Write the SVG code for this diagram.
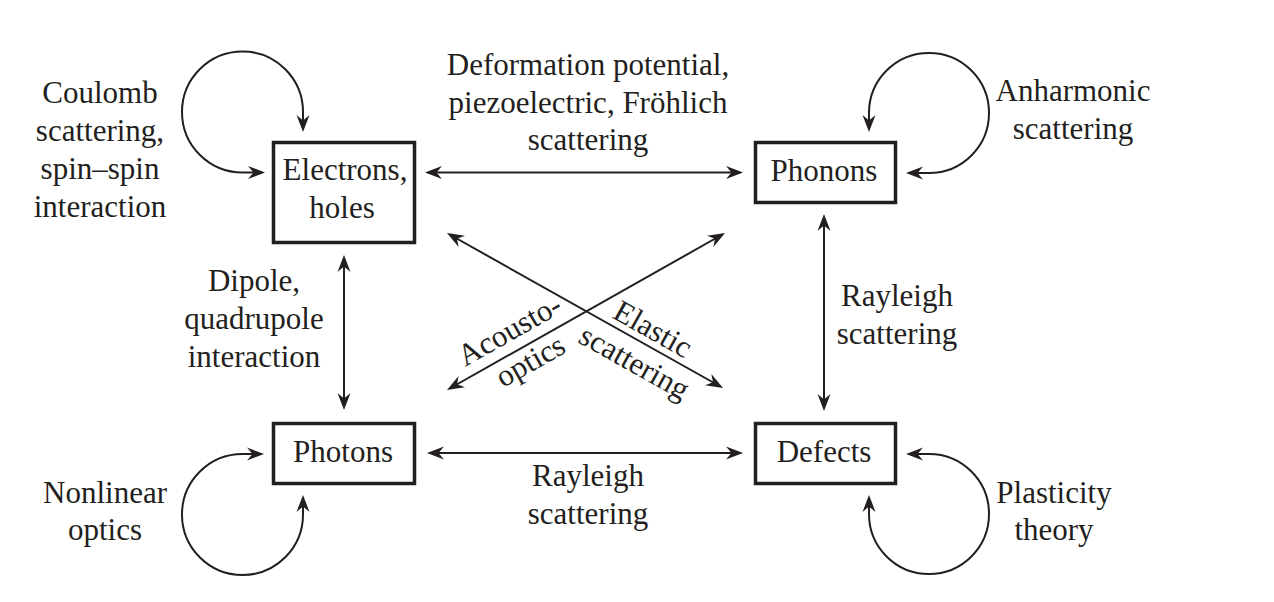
<svg xmlns="http://www.w3.org/2000/svg" width="1274" height="602" viewBox="0 0 1274 602">
<style>
text{font-family:"Liberation Serif","Times New Roman",serif;font-size:31px;fill:#231f20;text-anchor:middle}
.box{fill:#fff;stroke:#231f20;stroke-width:3.5}
.con{fill:none;stroke:#231f20;stroke-width:2;marker-start:url(#ah);marker-end:url(#ah)}
</style>
<defs>
<marker id="ah" markerUnits="userSpaceOnUse" markerWidth="30" markerHeight="30" refX="0" refY="0" orient="auto-start-reverse" overflow="visible">
<path d="M3,0 L-14,-6.5 L-8.5,0 L-14,6.5 Z" fill="#231f20"/>
</marker>
</defs>
<rect width="1274" height="602" fill="#fff"/>
<g id="connectors">
<path class="con" d="M428,172.5 H740"/>
<path class="con" d="M430,453 H740"/>
<path class="con" d="M344,258 V407"/>
<path class="con" d="M824,217 V408"/>
<path class="con" d="M449.6,234.5 L720.4,386.5"/>
<path class="con" d="M449.6,388.5 L722.4,234.5"/>
<path class="con" d="M262,172.5 L242.5,172.5 A60.5,60.5 0 1 1 303,112 L303,129"/>
<path class="con" d="M909,173 L929,173 A60,60 0 1 0 869,113 L869,129"/>
<path class="con" d="M261,454 L242.5,454 A60.5,60.5 0 1 0 303,514.5 L303,498"/>
<path class="con" d="M909,454 L929,454 A60,60 0 1 1 869,514 L869,498"/>
</g>
<g id="electrons">
<rect class="box" x="273.5" y="142.5" width="141" height="100"/>
<text x="345" y="180">Electrons,</text>
<text x="342" y="218">holes</text>
</g>
<g id="phonons">
<rect class="box" x="755.5" y="142.5" width="140" height="60"/>
<text x="824" y="181">Phonons</text>
</g>
<g id="photons">
<rect class="box" x="273.5" y="423.5" width="141" height="60"/>
<text x="343" y="462">Photons</text>
</g>
<g id="defects">
<rect class="box" x="755.5" y="423.5" width="140" height="60"/>
<text x="824" y="462">Defects</text>
</g>
<g id="labels">
<text x="100" y="103">Coulomb</text>
<text x="100" y="141">scattering,</text>
<text x="100" y="179">spin–spin</text>
<text x="100" y="217">interaction</text>
<text x="588" y="75">Deformation potential,</text>
<text x="588" y="113">piezoelectric, Fröhlich</text>
<text x="588" y="150">scattering</text>
<text x="1073" y="101">Anharmonic</text>
<text x="1073" y="139">scattering</text>
<text x="254" y="291">Dipole,</text>
<text x="254" y="329">quadrupole</text>
<text x="254" y="367">interaction</text>
<text x="897" y="306">Rayleigh</text>
<text x="897" y="344">scattering</text>
<text x="105" y="503">Nonlinear</text>
<text x="105" y="540">optics</text>
<text x="588" y="486">Rayleigh</text>
<text x="588" y="524">scattering</text>
<text x="1054" y="503">Plasticity</text>
<text x="1054" y="540">theory</text>
<g transform="translate(514.6,339) rotate(-29.4)">
<text x="0" y="0">Acousto-</text>
<text x="3" y="37">optics</text>
</g>
<g transform="translate(648,338) rotate(29.3)">
<text x="0" y="0">Elastic</text>
<text x="0" y="38">scattering</text>
</g>
</g>
</svg>
